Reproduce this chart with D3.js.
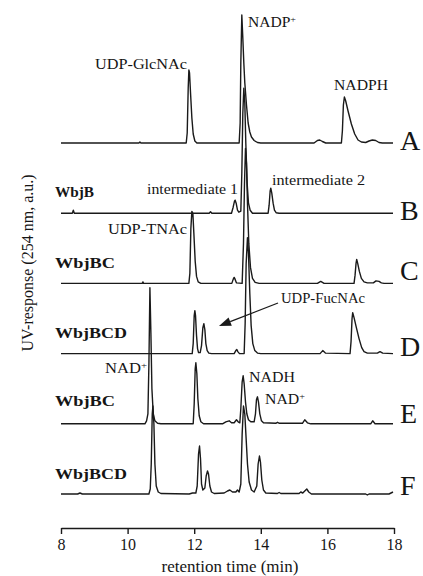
<!DOCTYPE html>
<html>
<head>
<meta charset="utf-8">
<script src="https://cdn.jsdelivr.net/npm/d3@7/dist/d3.min.js"></script>
<style>
  html, body { margin: 0; padding: 0; background: #fff; }
  svg { display: block; }
  text { font-family: "Liberation Serif", "Times New Roman", "DejaVu Serif", serif; fill: #151515; }
</style>
</head>
<body>
<svg id="chart" width="423" height="576"></svg>
<script>
// HPLC chromatograms, UV response at 254 nm, six runs stacked top to bottom.
const runLetters = ["A", "B", "C", "D", "E", "F"];
const timeTicks = [8, 10, 12, 14, 16, 18];

// [retention time (min), response (a.u.)] pairs for each run
const traceA = [
  [8.00,0],[10.34,0],[10.37,1],[10.40,0],
  [11.76,0],[11.79,10],[11.82,55],[11.84,73],[11.86,70],[11.89,50],[11.93,25],[11.97,9],[12.02,2],[12.08,0],
  [13.35,0],[13.38,20],[13.40,80],[13.43,128],[13.46,105],[13.49,80],[13.52,60],[13.57,38],[13.62,20],[13.67,11],[13.72,6],[13.80,2.5],[13.90,0.5],[14.00,0],
  [15.60,0],[15.70,2.5],[15.77,3],[15.85,1.5],[15.95,0],
  [16.42,0],[16.45,12],[16.48,38],[16.51,46],[16.55,42],[16.62,32],[16.72,19],[16.82,9],[16.92,3],[17.02,1],[17.15,0.5],
  [17.25,2],[17.35,3],[17.45,2.5],[17.55,0.5],[17.65,0],[17.97,0]
];
const traceB = [
  [8.00,0],[8.34,0],[8.37,3],[8.40,0],
  [12.45,0],[12.49,1.5],[12.53,0],
  [13.12,0],[13.17,6],[13.21,12],[13.23,13],[13.26,10],[13.30,3],[13.34,1],
  [13.40,2],[13.43,40],[13.46,100],[13.49,125],[13.52,110],[13.55,70],[13.59,30],[13.63,10],[13.68,3],[13.75,0],
  [14.22,0],[14.25,8],[14.28,22],[14.30,25],[14.33,20],[14.37,10],[14.41,3],[14.46,0.5],[14.55,0],
  [17.97,0]
];
const traceC = [
  [8.00,0],[10.44,0],[10.46,1.5],[10.48,0],
  [11.84,0],[11.87,10],[11.90,55],[11.93,72],[11.96,70],[11.99,50],[12.03,22],[12.07,7],[12.12,1.5],[12.20,0],
  [13.13,0],[13.17,4],[13.20,6],[13.23,4],[13.27,0.5],
  [13.44,0],[13.48,40],[13.51,100],[13.54,135],[13.57,120],[13.60,80],[13.64,40],[13.69,16],[13.75,5],[13.83,1],[13.95,0],
  [15.70,0],[15.80,2],[15.90,0],
  [16.80,0],[16.83,8],[16.86,20],[16.88,24],[16.91,20],[16.96,12],[17.02,5],[17.10,1.5],[17.20,0.5],
  [17.38,0.5],[17.46,2.5],[17.55,2],[17.62,0.5],[17.70,0],[17.97,0]
];
const traceD = [
  [8.00,0],
  [11.94,0],[11.97,10],[12.00,38],[12.02,43],[12.04,38],[12.07,18],[12.10,5],[12.13,1],
  [12.18,1],[12.22,8],[12.26,26],[12.29,30],[12.32,24],[12.35,10],[12.39,3],[12.44,0.5],[12.52,0],
  [13.20,0],[13.25,3],[13.28,4],[13.31,2],[13.36,0],
  [13.50,0],[13.53,30],[13.56,90],[13.60,116],[13.63,100],[13.67,60],[13.71,28],[13.76,10],[13.82,3],[13.90,0.5],[14.00,0],
  [15.78,0],[15.86,3],[15.94,0.5],
  [16.68,0],[16.71,12],[16.74,35],[16.76,41],[16.80,36],[16.87,26],[16.95,15],[17.03,6],[17.10,2],[17.20,0.5],
  [17.50,0.5],[17.58,2],[17.66,0.5],[17.97,0]
];
const traceE = [
  [8.00,0],
  [10.52,0],[10.57,3],[10.61,10],[10.64,60],[10.67,136],[10.70,90],[10.73,35],[10.77,10],[10.82,3],[10.90,0.5],[11.00,0],
  [11.97,0],[12.00,20],[12.03,55],[12.05,61],[12.08,50],[12.11,25],[12.15,8],[12.20,2],[12.28,0],
  [12.85,0],[12.95,2],[13.05,3],[13.12,1],[13.20,1],[13.27,4],[13.32,2],
  [13.37,1],[13.40,15],[13.44,42],[13.47,48],[13.50,40],[13.54,22],[13.58,10],[13.63,4],[13.70,2],
  [13.80,2],[13.84,10],[13.87,24],[13.90,27],[13.93,22],[13.97,10],[14.02,3],[14.08,1],
  [14.45,0.5],[14.50,1.5],[14.56,0.5],[15.25,0.5],[15.32,4],[15.40,1],[15.50,0],
  [17.30,0],[17.36,3],[17.43,0],[17.97,0]
];
const traceF = [
  [8.00,0],[8.50,0],[8.57,1],[8.64,0],
  [10.64,0],[10.68,5],[10.71,30],[10.74,80],[10.76,88],[10.79,70],[10.82,30],[10.86,8],[10.92,2],[11.00,0.5],
  [11.85,0],[11.95,1],[12.05,1],[12.09,8],[12.13,40],[12.16,48],[12.19,35],[12.22,10],[12.26,4],
  [12.32,6],[12.36,18],[12.40,23],[12.43,20],[12.47,8],[12.52,2],[12.60,0.5],
  [12.90,1],[13.00,3],[13.07,4],[13.15,2],[13.25,2],[13.30,4],[13.35,2],
  [13.40,10],[13.44,60],[13.48,88],[13.52,80],[13.56,55],[13.60,30],[13.65,12],[13.72,4],[13.80,2],
  [13.88,8],[13.92,30],[13.96,38],[13.99,32],[14.03,14],[14.08,4],[14.15,1],
  [14.50,0.5],[14.55,1.5],[14.60,0.5],[15.15,0.5],[15.20,2],[15.26,1],[15.32,3],[15.38,5],[15.44,2],[15.52,0],
  [17.15,0],[17.20,-1],[17.25,0],[17.85,0],[17.97,2]
];
const traces = [traceA, traceB, traceC, traceD, traceE, traceF];

const svg = d3.select("#chart");

// scales: time across, stacked response upward (runs offset by a fixed step)
const x = d3.scaleLinear().domain([8, 18]).range([61, 394]);
const step = 70.2;
const y = d3.scaleLinear().domain([0, 5 * step]).range([494, 143]);
const offset = i => (traces.length - 1 - i) * step;

const line = d3.line().x(d => x(d[0]));

traces.forEach((tr, i) => {
  svg.append("path")
    .datum(tr)
    .attr("fill", "none")
    .attr("stroke", "#1a1a1a")
    .attr("stroke-width", 1.4)
    .attr("stroke-linejoin", "round")
    .attr("d", line.y(d => y(d[1] + offset(i))));
});

// run letters on the right
const letterDy = [7, 7, -3, 2, -1, 1];
runLetters.forEach((L, i) => {
  svg.append("text")
    .attr("x", 400)
    .attr("y", y(offset(i)) + letterDy[i])
    .attr("font-size", 28)
    .text(L);
});

// peak and enzyme annotations; a trailing "+" is set as a superscript
function label(px, py, text, size, width, bold, supPlus) {
  const t = svg.append("text")
    .attr("x", px).attr("y", py)
    .attr("font-size", size)
    .attr("font-weight", bold ? "bold" : "normal");
  t.append("tspan").text(text);
  if (supPlus) {
    t.append("tspan")
      .attr("baseline-shift", "super")
      .attr("font-size", Math.round(size * 0.62))
      .text("+");
  }
  if (width) t.attr("textLength", width).attr("lengthAdjust", "spacingAndGlyphs");
  return t;
}

label(95, 69, "UDP-GlcNAc", 14, 92);
label(248, 27, "NADP", 14, 48, false, true);
label(334, 90, "NADPH", 14, 54);
label(55, 197, "WbjB", 15, 39, true);
label(147, 194, "intermediate 1", 14, 91);
label(272, 185, "intermediate 2", 14, 93);
label(108, 234, "UDP-TNAc", 14, 79);
label(55, 268, "WbjBC", 15, 60, true);
label(281, 303, "UDP-FucNAc", 14, 84);
label(55, 338, "WbjBCD", 15, 72, true);
label(105, 373, "NAD", 14, 42, false, true);
label(249, 382, "NADH", 14, 46);
label(265, 404, "NAD", 14, 40, false, true);
label(55, 406, "WbjBC", 15, 60, true);
label(55, 479, "WbjBCD", 15, 72, true);

// arrow pointing at the UDP-FucNAc pair in run D
const ax0 = 278, ay0 = 303, ax1 = 219, ay1 = 326;
const ang = Math.atan2(ay1 - ay0, ax1 - ax0);
const headLen = 12, headHalf = 4.5;
const bx = ax1 - headLen * Math.cos(ang), by = ay1 - headLen * Math.sin(ang);
svg.append("line")
  .attr("x1", ax0).attr("y1", ay0).attr("x2", bx).attr("y2", by)
  .attr("stroke", "#1a1a1a").attr("stroke-width", 1.3);
svg.append("path")
  .attr("d", `M${ax1},${ay1}L${bx - headHalf * Math.sin(ang)},${by + headHalf * Math.cos(ang)}L${bx + headHalf * Math.sin(ang)},${by - headHalf * Math.cos(ang)}Z`)
  .attr("fill", "#1a1a1a");

// time axis
const axis = d3.axisBottom(x).tickValues(timeTicks).tickSize(6).tickSizeOuter(0).tickPadding(5);
const gx = svg.append("g").attr("transform", "translate(0,528)").call(axis);
gx.select(".domain").attr("stroke", "#1a1a1a").attr("stroke-width", 1.6);
gx.selectAll(".tick line").attr("stroke", "#1a1a1a").attr("stroke-width", 1.4);
gx.selectAll(".tick text")
  .attr("font-family", "\"Liberation Serif\", \"Times New Roman\", serif")
  .attr("font-size", 16)
  .attr("fill", "#151515");

svg.append("text")
  .attr("x", 230).attr("y", 572)
  .attr("text-anchor", "middle")
  .attr("font-size", 17)
  .text("retention time (min)");

svg.append("text")
  .attr("transform", "translate(33,263) rotate(-90)")
  .attr("text-anchor", "middle")
  .attr("font-size", 16)
  .text("UV-response (254 nm, a.u.)");
</script>
</body>
</html>
